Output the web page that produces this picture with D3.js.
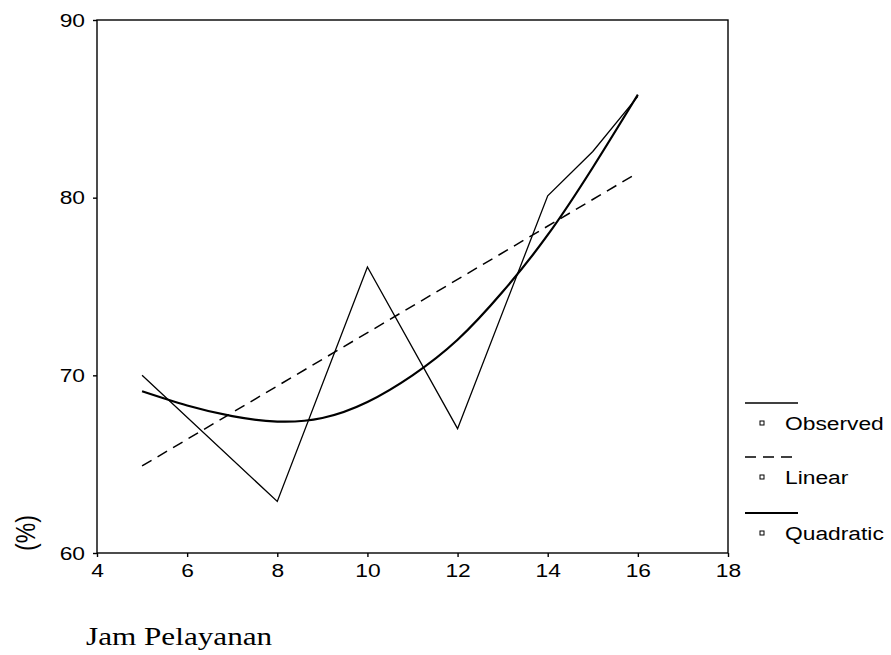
<!DOCTYPE html>
<html>
<head>
<meta charset="utf-8">
<script src="https://cdn.jsdelivr.net/npm/d3@7"></script>
<style>
  html, body { margin: 0; padding: 0; background: #fff; }
  svg { display: block; }
</style>
</head>
<body>
<svg id="chart" width="891" height="655"></svg>
<script>
// ---- data ----
const observedX = [5, 8, 10, 12, 14, 15, 16];
const observedY = [70.0, 62.9, 76.1, 67.0, 80.1, 82.6, 85.7];
const linearX = [5, 16];
const linearY = [64.9, 81.4];
const quadraticX = [5, 6, 7, 8, 9, 10, 11, 12, 13, 14, 15, 16];
const quadraticY = [69.1, 68.3, 67.7, 67.4, 67.6, 68.5, 70.0, 72.0, 74.7, 77.9, 81.7, 85.8];
const xTicks = [4, 6, 8, 10, 12, 14, 16, 18];
const yTicks = [60, 70, 80, 90];
const legendLabels = ["Observed", "Linear", "Quadratic"];
const xTitle = "Jam Pelayanan";
const yTitle = "(%)";

// ---- layout ----
const svg = d3.select("#chart");
const x = d3.scaleLinear().domain([4, 18]).range([97, 728]);
const y = d3.scaleLinear().domain([60, 90]).range([553, 20]);
const sans = "'Liberation Sans', Arial, sans-serif";
const serif = "'Liberation Serif', 'Times New Roman', serif";
const stretch = "scale(1.2,1)";

// frame
svg.append("rect")
  .attr("x", x(4)).attr("y", y(90))
  .attr("width", x(18) - x(4)).attr("height", y(60) - y(90))
  .attr("fill", "none").attr("stroke", "#000").attr("stroke-width", 1.4);

// axes
const xAxis = svg.append("g")
  .attr("transform", `translate(0,${y(60)})`)
  .call(d3.axisBottom(x).tickValues(xTicks).tickSize(4).tickPadding(7).tickFormat(d3.format("d")));
const yAxis = svg.append("g")
  .attr("transform", `translate(${x(4)},0)`)
  .call(d3.axisLeft(y).tickValues(yTicks).tickSize(4).tickPadding(6).tickFormat(d3.format("d")));
[xAxis, yAxis].forEach(g => {
  g.select(".domain").remove();
  g.selectAll(".tick line").attr("stroke", "#000").attr("stroke-width", 1.4);
  g.selectAll(".tick text")
    .attr("fill", "#000")
    .style("font-family", sans)
    .style("font-size", "19px")
    .attr("transform", stretch);
});

// series
const line = d3.line().x(d => x(d[0])).y(d => y(d[1]));
const obsData = observedX.map((v, i) => [v, observedY[i]]);
const linData = linearX.map((v, i) => [v, linearY[i]]);
const quadData = quadraticX.map((v, i) => [v, quadraticY[i]]);

svg.append("path").datum(obsData)
  .attr("d", line)
  .attr("fill", "none").attr("stroke", "#000").attr("stroke-width", 1.3)
  .attr("stroke-linejoin", "miter");

svg.append("path").datum(linData)
  .attr("d", line)
  .attr("fill", "none").attr("stroke", "#000").attr("stroke-width", 1.5)
  .attr("stroke-dasharray", "11,7");

svg.append("path").datum(quadData)
  .attr("d", line.curve(d3.curveNatural))
  .attr("fill", "none").attr("stroke", "#000").attr("stroke-width", 2.2);

// legend
const legendTop = [403, 457, 513];
const legendDash = [null, "11,7", null];
const legendWidth = [1.6, 1.5, 1.8];
const lg = svg.append("g");
legendLabels.forEach((lab, i) => {
  lg.append("line")
    .attr("x1", 745).attr("x2", 798)
    .attr("y1", legendTop[i]).attr("y2", legendTop[i])
    .attr("stroke", "#000").attr("stroke-width", legendWidth[i])
    .attr("stroke-dasharray", legendDash[i]);
  lg.append("rect")
    .attr("x", 760).attr("y", legendTop[i] + 20 - 2)
    .attr("width", 4).attr("height", 4)
    .attr("fill", "none").attr("stroke", "#000").attr("stroke-width", 1);
  lg.append("text")
    .attr("transform", `translate(785,${legendTop[i] + 20}) ${stretch}`)
    .attr("dy", "0.35em")
    .style("font-family", sans).style("font-size", "19px")
    .attr("fill", "#000")
    .text(lab);
});

// axis titles
svg.append("text")
  .attr("transform", "translate(25,533) rotate(-90) scale(1,1.2)")
  .attr("text-anchor", "middle")
  .attr("dy", "0.35em")
  .style("font-family", sans).style("font-size", "23px")
  .attr("fill", "#000")
  .text(yTitle);

svg.append("text")
  .attr("transform", `translate(86,645) scale(1.2,1)`)
  .style("font-family", serif).style("font-size", "26px")
  .attr("fill", "#000")
  .text(xTitle);
</script>
</body>
</html>
